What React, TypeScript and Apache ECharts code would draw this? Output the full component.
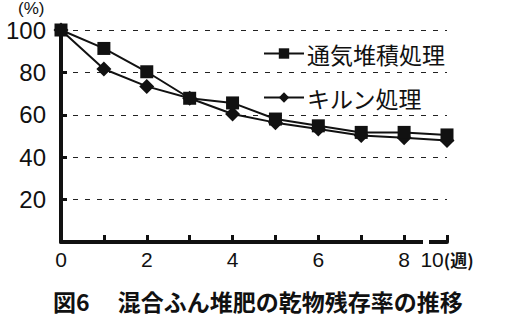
import React, { useEffect, useRef } from "react";
import * as echarts from "echarts";

const weeks = ["0", "1", "2", "3", "4", "5", "6", "7", "8", "10"];
const aerated = [100, 91.3, 80.3, 67.8, 65.6, 58, 54.8, 51.7, 51.7, 50.5];
const kiln = [100, 81.6, 73.4, 67.8, 60.4, 56.3, 53.3, 50.2, 49.2, 47.9];
const yTicks = { min: 0, max: 100, interval: 20 };
const seriesNames = ["通気堆積処理", "キルン処理"];
const caption = "図6　 混合ふん堆肥の乾物残存率の推移";

export default function App() {
  const ref = useRef<HTMLDivElement>(null);
  useEffect(() => {
    const chart = echarts.init(ref.current!, null, { renderer: "svg" });
    const font = "'Liberation Sans', Arial, sans-serif";
    const jfont = "'Noto Sans CJK JP', sans-serif";
    chart.setOption({
      animation: false,
      backgroundColor: "#fff",
      grid: { left: 61, right: 63, top: 30, bottom: 80, containLabel: false },
      title: {
        text: caption,
        left: 48,
        top: 284,
        textStyle: { fontFamily: jfont, fontSize: 23, fontWeight: "bold", color: "#111" },
      },
      legend: {
        orient: "vertical",
        left: 258,
        top: 37,
        itemGap: 21,
        itemWidth: 40,
        itemHeight: 13,
        selectedMode: false,
        data: seriesNames,
        textStyle: { fontFamily: jfont, fontSize: 23, color: "#111", padding: [0, 0, 0, -2] },
      },
      xAxis: {
        type: "category",
        data: weeks,
        boundaryGap: false,
        axisLine: { lineStyle: { color: "#111", width: 4 } },
        axisTick: {
          inside: true,
          length: 7,
          lineStyle: { color: "#111", width: 3 },
          interval: 0,
        },
        axisLabel: {
          interval: (i: number) => i % 2 === 0 || i === weeks.length - 1,
          fontFamily: font,
          fontSize: 21,
          color: "#111",
          margin: 7,
          formatter: (v: string) => (v === "10" ? "10{u|(週)}" : v),
          rich: { u: { fontFamily: jfont, fontSize: 17, fontWeight: "bold", color: "#111" } },
        },
        splitLine: { show: false },
      },
      yAxis: {
        type: "value",
        min: yTicks.min,
        max: yTicks.max,
        interval: yTicks.interval,
        axisLine: { show: true, lineStyle: { color: "#111", width: 4 } },
        axisTick: { show: true, inside: true, length: 6, lineStyle: { color: "#111", width: 3 } },
        axisLabel: {
          showMinLabel: false,
          fontFamily: font,
          fontSize: 24,
          lineHeight: 20,
          color: "#111",
          margin: 15,
        },
        splitLine: { lineStyle: { color: "#222", type: [5, 7], width: 1 } },
      },
      graphic: [
        {
          type: "text",
          left: 18,
          top: 0,
          style: { text: "(%)", fontFamily: font, fontSize: 17, fill: "#111" },
        },
        {
          type: "rect",
          shape: { x: 423, y: 236, width: 6, height: 12 },
          style: { fill: "#fff" },
          z: 100,
        },
      ],
      series: [
        {
          name: seriesNames[0],
          type: "line",
          data: aerated,
          symbol: "rect",
          symbolSize: 13,
          itemStyle: { color: "#111" },
          lineStyle: { color: "#111", width: 2 },
          z: 3,
        },
        {
          name: seriesNames[1],
          type: "line",
          data: kiln,
          symbol: "diamond",
          symbolSize: 15,
          itemStyle: { color: "#111" },
          lineStyle: { color: "#111", width: 2 },
          z: 2,
        },
      ],
    });
    return () => chart.dispose();
  }, []);
  return <div ref={ref} style={{ width: 510, height: 322, position: "absolute", left: 0, top: 0 }} />;
}
